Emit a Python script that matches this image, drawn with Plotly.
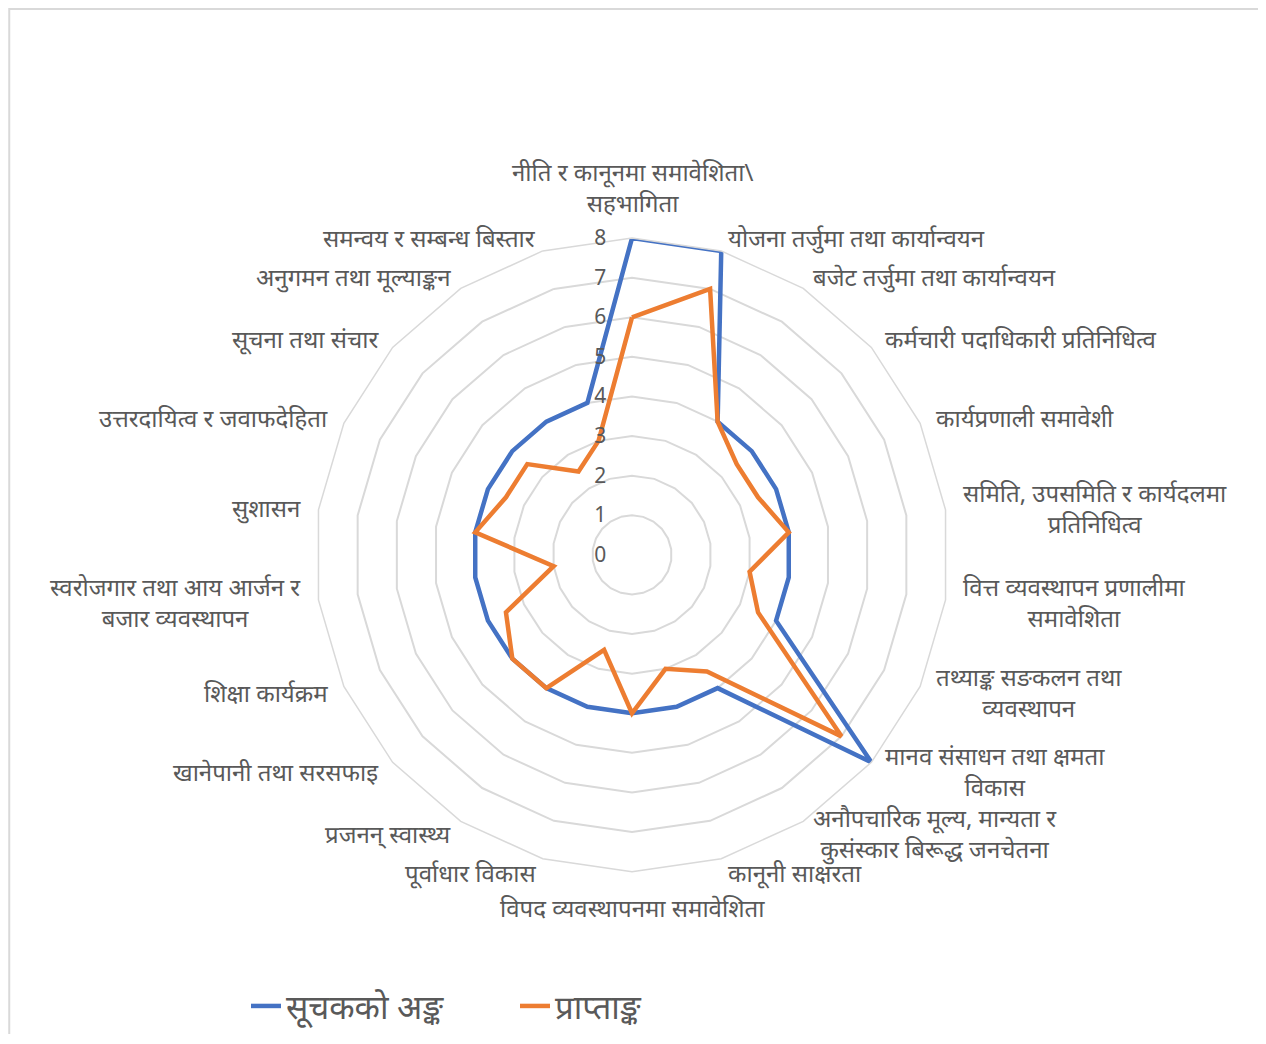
import math
import plotly.graph_objects as go

categories = [
    "नीति र कानूनमा समावेशिता\\<br>सहभागिता",
    "योजना तर्जुमा तथा कार्यान्वयन",
    "बजेट तर्जुमा तथा कार्यान्वयन",
    "कर्मचारी पदाधिकारी प्रतिनिधित्व",
    "कार्यप्रणाली समावेशी",
    "समिति, उपसमिति र कार्यदलमा<br>प्रतिनिधित्व",
    "वित्त व्यवस्थापन प्रणालीमा<br>समावेशिता",
    "तथ्याङ्क सङकलन तथा<br>व्यवस्थापन",
    "मानव संसाधन तथा क्षमता<br>विकास",
    "अनौपचारिक मूल्य, मान्यता र<br>कुसंस्कार बिरूद्ध जनचेतना",
    "कानूनी साक्षरता",
    "विपद व्यवस्थापनमा समावेशिता",
    "पूर्वाधार विकास",
    "प्रजनन् स्वास्थ्य",
    "खानेपानी तथा सरसफाइ",
    "शिक्षा कार्यक्रम",
    "स्वरोजगार तथा आय आर्जन र<br>बजार व्यवस्थापन",
    "सुशासन",
    "उत्तरदायित्व र जवाफदेहिता",
    "सूचना तथा संचार",
    "अनुगमन तथा मूल्याङ्कन",
    "समन्वय र सम्बन्ध बिस्तार",
]

indicator_scores = [8, 8, 4, 4, 4, 4, 4, 4, 8, 4, 4, 4, 4, 4, 4, 4, 4, 4, 4, 4, 4, 4]
obtained_scores = [6, 7, 4, 3.5, 3.5, 4, 3, 3.5, 7, 3.5, 3, 4, 2.5, 4, 4, 3.5, 2, 4, 3.5, 3.5, 2.5, 3]

series_names = ["सूचकको अङ्क", "प्राप्ताङ्क"]
radial_ticks = [0, 1, 2, 3, 4, 5, 6, 7, 8]

FONT = "Noto Sans, Noto Sans Devanagari, Lohit Devanagari, sans-serif"
TXT = "#595959"
GRID = "#d9d9d9"

# figure geometry (page has an 8px body margin)
W, H = 1250, 1026
CX, CY, R = 624, 549, 318

fig = go.Figure()
for name, vals, color in [(series_names[0], indicator_scores, "#4472C4"),
                          (series_names[1], obtained_scores, "#ED7D31")]:
    fig.add_trace(go.Scatterpolar(
        r=vals + vals[:1],
        theta=categories + categories[:1],
        mode="lines",
        name=name,
        line=dict(color=color, width=4.5),
    ))

# category labels placed just outside the outer ring, Excel-style
annotations = []
n = len(categories)
for i, lab in enumerate(categories):
    a = math.radians(i * 360 / n)
    s, c = math.sin(a), math.cos(a)
    if abs(s) < 0.05:
        pad = 17
        x = CX
        y = CY - (R + pad) * c
        xa = "center"
        ya = "bottom" if c > 0 else "top"
    else:
        pad = 14
        x = CX + R * s + pad * s
        y = CY - R * c - pad * c
        xa = "left" if s > 0 else "right"
        ya = "middle"
    annotations.append(dict(
        text=lab, xref="paper", yref="paper", x=x / W, y=1 - y / H,
        xanchor=xa, yanchor=ya, align="center", showarrow=False,
        font=dict(size=24, color=TXT, family=FONT),
    ))

fig.update_layout(
    width=W, height=H,
    margin=dict(l=0, r=0, t=0, b=0),
    paper_bgcolor="white",
    font=dict(family=FONT, color=TXT, size=20),
    polar=dict(
        domain=dict(x=[(CX - R) / W, (CX + R) / W],
                    y=[(H - CY - R) / H, (H - CY + R) / H]),
        bgcolor="white",
        gridshape="linear",
        angularaxis=dict(
            rotation=90, direction="clockwise",
            showgrid=False, showline=True, linecolor=GRID, linewidth=1.5,
            showticklabels=False, ticks="",
        ),
        radialaxis=dict(
            range=[0, 8], tickvals=radial_ticks, angle=90, tickangle=90,
            showline=False, showgrid=True, gridcolor=GRID, gridwidth=1.5,
            ticks="outside", ticklen=18, tickcolor="rgba(0,0,0,0)",
            side="counterclockwise",
            tickfont=dict(size=21, color=TXT),
        ),
    ),
    annotations=annotations,
    showlegend=True,
    legend=dict(orientation="h", x=238 / W, xanchor="left",
                y=24 / H, yanchor="middle",
                font=dict(size=33, color=TXT),
                entrywidth=224, entrywidthmode="pixels"),
    shapes=[dict(type="rect", xref="paper", yref="paper",
                 x0=0.001, x1=1252 / W, y0=-0.01, y1=0.999,
                 line=dict(color=GRID, width=2))],
)

fig.write_html("out.html")
